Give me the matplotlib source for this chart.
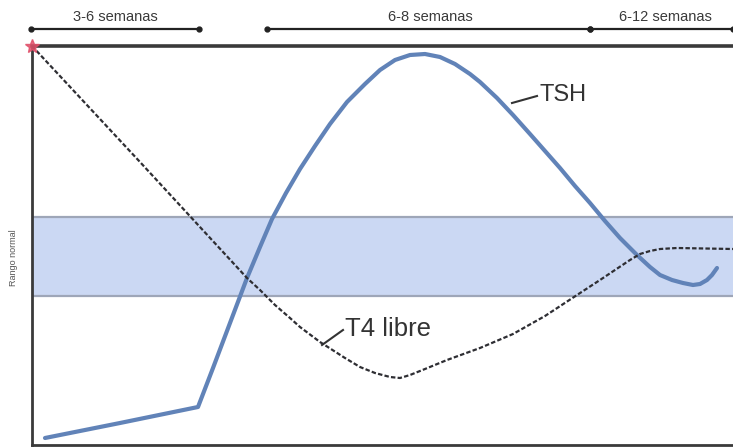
import matplotlib
matplotlib.use('Agg')
from matplotlib import pyplot as plt

plt.rcParams['font.family'] = ['Liberation Sans', 'DejaVu Sans']

# schematic levels (arbitrary units)
tsh_x = [13, 88, 166, 181, 198, 215, 228, 240, 254, 268, 283, 298, 315, 333,
         348, 363, 378, 393, 408, 423, 438, 448, 465, 481, 498, 513, 528, 543,
         558, 573, 588, 605, 618, 628, 640, 651, 661, 668, 675, 680, 685]
tsh_y = [7, 22, 38, 77, 122, 167, 198, 226, 252, 276, 299, 321, 343, 361,
         375, 385, 390, 391, 388, 381, 371, 363, 347, 330, 311, 294, 277, 259,
         242, 224, 207, 190, 178, 170, 165, 162, 160, 161, 165, 170, 177]

t4_x = [0, 108, 215, 228, 243, 258, 268, 288, 313, 328, 343, 358, 368, 378,
        393, 415, 448, 481, 513, 545, 568, 583, 598, 608, 618, 628, 645, 701]
t4_y = [399, 283, 167, 155, 140, 127, 118, 103, 87, 78, 72, 68, 67, 70,
        76, 85, 97, 111, 129, 150, 165, 175, 185, 191, 194, 196, 197, 196]

normal_range = (149, 228)

periods = ['3-6 semanas', '6-8 semanas', '6-12 semanas']
period_start = [-1, 235, 558]
period_end = [167, 558, 701]
label_x = [83, 398, 633]

fig = plt.figure(figsize=(7.33, 4.47), dpi=100)
ax = fig.add_axes([32 / 733, 2 / 447, 701 / 733, 399 / 447])
ax.set_xlim(0, 701)
ax.set_ylim(0, 399)

# normal range band
ax.axhspan(*normal_range, facecolor='#cbd8f3', edgecolor='none', zorder=1)
for y in normal_range:
    ax.axhline(y, color='#9ea6b8', lw=1.6, zorder=1.5)

ax.plot(tsh_x, tsh_y, color='#6183b8', lw=3, solid_capstyle='round',
        solid_joinstyle='round', zorder=3)
ax.plot(t4_x, t4_y, color='#2e2e33', lw=1.6, linestyle=(0, (2.0, 1.0)),
        zorder=4)
ax.plot([0], [399], marker='*', ms=10, color='#e0506a', clip_on=False,
        zorder=5, alpha=0.85)

# curve labels
ax.plot([480, 505], [342, 349], color='#333333', lw=1.5)
ax.text(508, 350, 'TSH', fontsize=17, color='#333333', ha='left', va='center')
ax.plot([290, 311], [100, 115], color='#333333', lw=1.5)
ax.text(313, 116, 'T4 libre', fontsize=18.5, color='#333333', ha='left',
        va='center')

# time periods above the plot
for name, x0, x1, lx in zip(periods, period_start, period_end, label_x):
    ax.plot([x0, x1], [416, 416], color='#222222', lw=1.6, marker='o', ms=3.5,
            clip_on=False)
    ax.text(lx, 428, name, fontsize=10.5, color='#3a3a3a', ha='center',
            va='center')

ax.set_ylabel('Rango normal', fontsize=6.5, color='#555555')
ax.yaxis.set_label_coords(-0.02, 0.47)

for side in ['top', 'left', 'bottom']:
    ax.spines[side].set_color('#3a3a3a')
    ax.spines[side].set_linewidth(2)
ax.spines['top'].set_linewidth(2.6)
ax.spines['right'].set_visible(False)
ax.set_xticks([])
ax.set_yticks([])

fig.savefig('out.png', dpi=100)
